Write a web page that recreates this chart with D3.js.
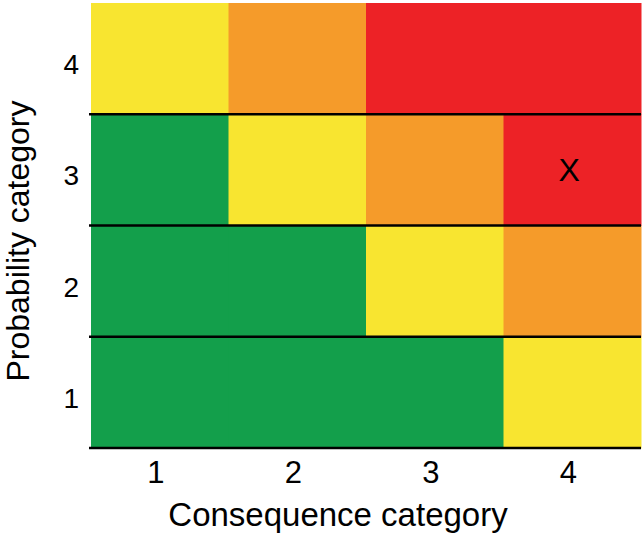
<!DOCTYPE html>
<html>
<head>
<meta charset="utf-8">
<script src="https://cdn.jsdelivr.net/npm/d3@7"></script>
<style>
  body { margin: 0; background: #fff; }
  text { font-family: "Liberation Sans", Arial, Helvetica, sans-serif; fill: #000; }
</style>
</head>
<body>
<svg></svg>
<script>
const consequence = [1, 2, 3, 4];
const probability = [1, 2, 3, 4];
// risk level per cell, rows = probability 1..4, columns = consequence 1..4
const riskGrid = [
    ['low', 'low', 'low', 'medium'],
    ['low', 'low', 'medium', 'high'],
    ['low', 'medium', 'high', 'extreme'],
    ['medium', 'high', 'extreme', 'extreme']
];
const riskLevels = ['low', 'medium', 'high', 'extreme'];
const riskColors = ['#139f4b', '#f8e530', '#f59b2a', '#ed2226'];
const marked = {p: 3, c: 4, label: 'X'};

const margin = {t: 3, r: 1, b: 85, l: 91};
const size = {w: 642, h: 533};
const svg = d3.select('svg')
    .attr('width', size.w)
    .attr('height', size.h);

const w = size.w - margin.l - margin.r;
const h = size.h - margin.t - margin.b;

const g = svg.append('g')
    .attr('transform', `translate(${margin.l},${margin.t})`);

let xScale = d3.scaleBand().domain(consequence).range([0, w]);
let yScale = d3.scaleBand().domain(probability).range([h, 0]);
let colorScale = d3.scaleOrdinal().domain(riskLevels).range(riskColors);

let cells = [];
probability.forEach((p, i) => {
    consequence.forEach((c, j) => {
        cells.push({p: p, c: c, level: riskGrid[i][j]});
    });
});

g.selectAll('rect.cell')
    .data(cells)
    .join('rect')
    .classed('cell', true)
    .attr('x', d => xScale(d.c))
    .attr('y', d => yScale(d.p))
    .attr('width', xScale.bandwidth() + 0.5)
    .attr('height', yScale.bandwidth() + 0.5)
    .attr('fill', d => colorScale(d.level));

// black lines under each row
g.selectAll('line.row')
    .data(probability)
    .join('line')
    .classed('row', true)
    .attr('x1', -2)
    .attr('x2', w)
    .attr('y1', d => yScale(d) + yScale.bandwidth())
    .attr('y2', d => yScale(d) + yScale.bandwidth())
    .attr('stroke', '#000')
    .attr('stroke-width', 2.5);

g.append('text')
    .attr('x', xScale(marked.c) + xScale.bandwidth() / 2 - 3)
    .attr('y', yScale(marked.p) + yScale.bandwidth() / 2)
    .attr('text-anchor', 'middle')
    .attr('dominant-baseline', 'central')
    .style('font-size', '32px')
    .text(marked.label);

// axes
let xAxis = g.append('g')
    .attr('transform', `translate(0,${h})`)
    .call(d3.axisBottom(xScale).tickSize(0).tickPadding(13));
xAxis.select('.domain').remove();
xAxis.selectAll('text')
    .style('font-size', '31px')
    .attr('dx', -4);

let yAxis = g.append('g')
    .call(d3.axisLeft(yScale).tickSize(0).tickPadding(12));
yAxis.select('.domain').remove();
yAxis.selectAll('text')
    .style('font-size', '28px')
    .attr('dy', '0.55em');

svg.append('text')
    .attr('x', 338)
    .attr('y', 526)
    .attr('text-anchor', 'middle')
    .style('font-size', '33px')
    .text('Consequence category');

svg.append('text')
    .attr('transform', 'translate(29,241) rotate(-90)')
    .attr('text-anchor', 'middle')
    .style('font-size', '32px')
    .text('Probability category');
</script>
</body>
</html>
